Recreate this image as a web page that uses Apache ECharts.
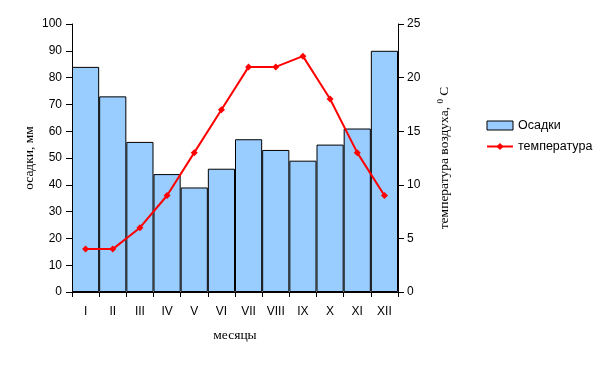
<!DOCTYPE html>
<html><head><meta charset="utf-8">
<script src="https://cdn.jsdelivr.net/npm/echarts@6/dist/echarts.min.js"></script>
<style>html,body{margin:0;padding:0;background:#fff}#c{width:610px;height:365px}</style>
</head><body><div id="c"></div>
<script>
const months = ['I','II','III','IV','V','VI','VII','VIII','IX','X','XI','XII'];
const precipitation = [84, 73, 56, 44, 39, 46, 57, 53, 49, 55, 61, 90];
const temperature = [4, 4, 6, 9, 13, 17, 21, 21, 22, 18, 13, 9];
const leftTicks = {min: 0, max: 100, interval: 10};
const rightTicks = {min: 0, max: 25, interval: 5};

const chart = echarts.init(document.getElementById('c'));
const axisFont = {fontFamily: 'Liberation Sans', fontSize: 12, color: '#000'};
const titleFont = {fontFamily: 'Liberation Serif', fontSize: 13.5, color: '#000'};
chart.setOption({
  animation: false,
  grid: {left: 72, right: 212, top: 24, bottom: 73},
  legend: {
    left: 481, top: 114, orient: 'vertical', itemGap: 8,
    itemWidth: 26, itemHeight: 9,
    textStyle: {fontFamily: 'Liberation Sans', fontSize: 12.5, color: '#000'},
    data: [
      {name: 'Осадки', icon: 'rect', itemStyle: {color: '#99CCFF', borderColor: '#000', borderWidth: 1}},
      {name: 'температура'}
    ]
  },
  xAxis: {
    type: 'category', data: months, boundaryGap: true,
    name: 'месяцы', nameLocation: 'middle', nameGap: 36, nameTextStyle: titleFont,
    nameMoveOverlap: false,
    axisLine: {lineStyle: {color: '#000', width: 1}},
    axisTick: {show: true, length: 5, interval: 0, lineStyle: {color: '#000'}},
    axisLabel: Object.assign({margin: 14, interval: 0}, axisFont)
  },
  yAxis: [
    {
      type: 'value', min: leftTicks.min, max: leftTicks.max, interval: leftTicks.interval,
      name: 'осадки, мм', nameLocation: 'middle', nameGap: 36, nameTextStyle: titleFont,
      nameMoveOverlap: false,
      axisLine: {show: true, lineStyle: {color: '#000'}},
      axisTick: {show: true, length: 6, lineStyle: {color: '#000'}},
      splitLine: {show: false},
      axisLabel: Object.assign({margin: 10}, axisFont)
    },
    {
      type: 'value', min: rightTicks.min, max: rightTicks.max, interval: rightTicks.interval,
      position: 'right',
      name: 'температура воздуха, {sup|0} С', nameLocation: 'middle', nameGap: 38, nameRotate: 90,
      nameMoveOverlap: false,
      nameTextStyle: Object.assign({rich: {sup: {fontFamily: 'Liberation Serif', fontSize: 9, color: '#000', verticalAlign: 'top', padding: [0,0,8,0]}}}, titleFont),
      axisLine: {show: true, lineStyle: {color: '#000'}},
      axisTick: {show: true, length: 6, lineStyle: {color: '#000'}},
      splitLine: {show: false},
      axisLabel: Object.assign({margin: 9}, axisFont)
    }
  ],
  series: [
    {
      name: 'Осадки', type: 'bar', data: precipitation, yAxisIndex: 0,
      barCategoryGap: 0,
      itemStyle: {color: '#99CCFF', borderColor: '#000', borderWidth: 1}
    },
    {
      name: 'температура', type: 'line', data: temperature, yAxisIndex: 1,
      symbol: 'diamond', symbolSize: 7,
      lineStyle: {color: '#FF0000', width: 2},
      itemStyle: {color: '#FF0000'}
    }
  ]
});
</script></body></html>
